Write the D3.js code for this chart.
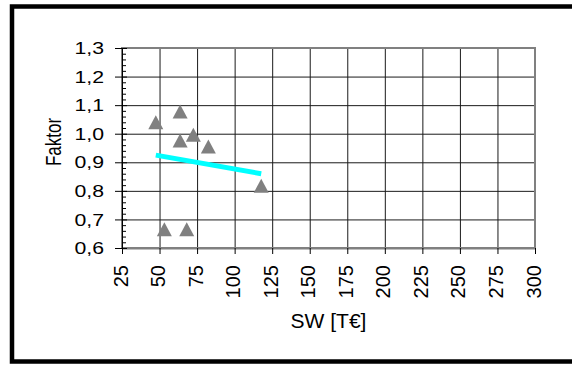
<!DOCTYPE html>
<html>
<head>
<meta charset="utf-8">
<script src="https://cdn.jsdelivr.net/npm/d3@7"></script>
<style>
  body { margin: 0; background: #fff; }
  text { font-family: Arial, "Liberation Sans", sans-serif; fill: #000; }
</style>
</head>
<body>
<div id="chart"></div>
<script>
// data
var swValues = [47.5, 63.7, 63.7, 72.5, 82.5, 117.7, 53.2, 68.1];
var faktorValues = [1.04, 1.078, 0.976, 0.996, 0.955, 0.818, 0.666, 0.666];
var trendX = [47.5, 117.7];
var trendY = [0.925, 0.86];
var xTicks = [25, 50, 75, 100, 125, 150, 175, 200, 225, 250, 275, 300];
var yTicks = [0.6, 0.7, 0.8, 0.9, 1.0, 1.1, 1.2, 1.3];
var yMinor = d3.range(30, 66, 1).map(function (d) { return d / 50; }).filter(function (d) { return Math.round(d * 100) % 10 != 0; });

var W = 572, H = 365;
var plotLeft = 122, plotRight = 535, plotTop = 48, plotBottom = 248;

var de = d3.formatLocale({ decimal: ",", thousands: ".", grouping: [3], currency: ["", "€"] });
var fmt = de.format(".1f");

var svg = d3.select("#chart").append("svg")
	.attr("width", W)
	.attr("height", H);

svg.append("rect").attr("width", W).attr("height", H).attr("fill", "#fff");

// outer frame
svg.append("rect")
	.attr("x", 12).attr("y", 6.5)
	.attr("width", 620).attr("height", 355)
	.attr("fill", "none")
	.attr("stroke", "#000")
	.attr("stroke-width", 4.5);

var x = d3.scaleLinear().domain([25, 300]).range([plotLeft, plotRight]);
var y = d3.scaleLinear().domain([0.6, 1.3]).range([plotBottom, plotTop]);

// gridlines
svg.append("g")
	.attr("transform", "translate(" + plotLeft + ",0)")
	.call(d3.axisLeft(y).tickValues(yTicks).tickSize(-(plotRight - plotLeft)).tickFormat(""))
	.call(function (g) { g.select(".domain").remove(); })
	.selectAll("line").attr("stroke", "#1a1a1a");

svg.append("g")
	.attr("transform", "translate(0," + plotBottom + ")")
	.call(d3.axisBottom(x).tickValues(xTicks).tickSize(-(plotBottom - plotTop)).tickFormat(""))
	.call(function (g) { g.select(".domain").remove(); })
	.selectAll("line").attr("stroke", "#1a1a1a");

// plot area border
svg.append("rect")
	.attr("x", plotLeft).attr("y", plotTop)
	.attr("width", plotRight - plotLeft).attr("height", plotBottom - plotTop)
	.attr("fill", "none")
	.attr("stroke", "#808080")
	.attr("stroke-width", 2);

// x axis
var xAxis = svg.append("g")
	.attr("transform", "translate(0," + plotBottom + ")")
	.call(d3.axisBottom(x).tickValues(xTicks).tickSizeInner(6).tickSizeOuter(0).tickFormat(d3.format("d")));
xAxis.select(".domain").attr("stroke", "#808080").attr("stroke-width", 2);
xAxis.selectAll(".tick line").attr("stroke", "#000");
xAxis.selectAll(".tick text")
	.attr("y", null)
	.attr("dy", null)
	.attr("transform", "translate(5,17) rotate(-90)")
	.attr("text-anchor", "end")
	.style("font-size", "20px");

// y axis
var yAxis = svg.append("g")
	.attr("transform", "translate(" + plotLeft + ",0)")
	.call(d3.axisLeft(y).tickValues(yTicks).tickSizeInner(7).tickSizeOuter(0).tickFormat(fmt));
yAxis.select(".domain").attr("stroke", "#000");
yAxis.selectAll(".tick line").attr("x1", 5).attr("stroke", "#000");
yAxis.selectAll(".tick text")
	.attr("x", null)
	.attr("dy", "0.33em")
	.attr("transform", "translate(-18,0) scale(1.25,1)")
	.attr("text-anchor", "end")
	.style("font-size", "17px");

// minor ticks inside
svg.append("g")
	.attr("transform", "translate(" + plotLeft + ",0)")
	.call(d3.axisRight(y).tickValues(yMinor).tickSize(4).tickFormat(""))
	.call(function (g) { g.select(".domain").remove(); })
	.selectAll("line").attr("stroke", "#000");

// axis titles
svg.append("text")
	.attr("x", (plotLeft + plotRight) / 2)
	.attr("y", 328)
	.attr("text-anchor", "middle")
	.style("font-size", "21px")
	.text("SW [T€]");

svg.append("text")
	.attr("transform", "translate(61," + ((plotTop + plotBottom) / 2 - 6) + ") scale(1.3,1) rotate(-90)")
	.attr("text-anchor", "middle")
	.style("font-size", "17px")
	.text("Faktor");

// points
var points = swValues.map(function (d, i) { return { sw: d, f: faktorValues[i] }; });
svg.selectAll(".pt")
	.data(points)
	.enter().append("path")
	.attr("class", "pt")
	.attr("d", "M0,-7L7.5,7L-7.5,7Z")
	.attr("transform", function (d) { return "translate(" + x(d.sw) + "," + y(d.f) + ")"; })
	.attr("fill", "#808080");

// trend line
var line = d3.line()
	.x(function (d) { return x(d[0]); })
	.y(function (d) { return y(d[1]); });
svg.append("path")
	.datum(trendX.map(function (d, i) { return [d, trendY[i]]; }))
	.attr("d", line)
	.attr("fill", "none")
	.attr("stroke", "#00ffff")
	.attr("stroke-width", 5);
</script>
</body>
</html>
